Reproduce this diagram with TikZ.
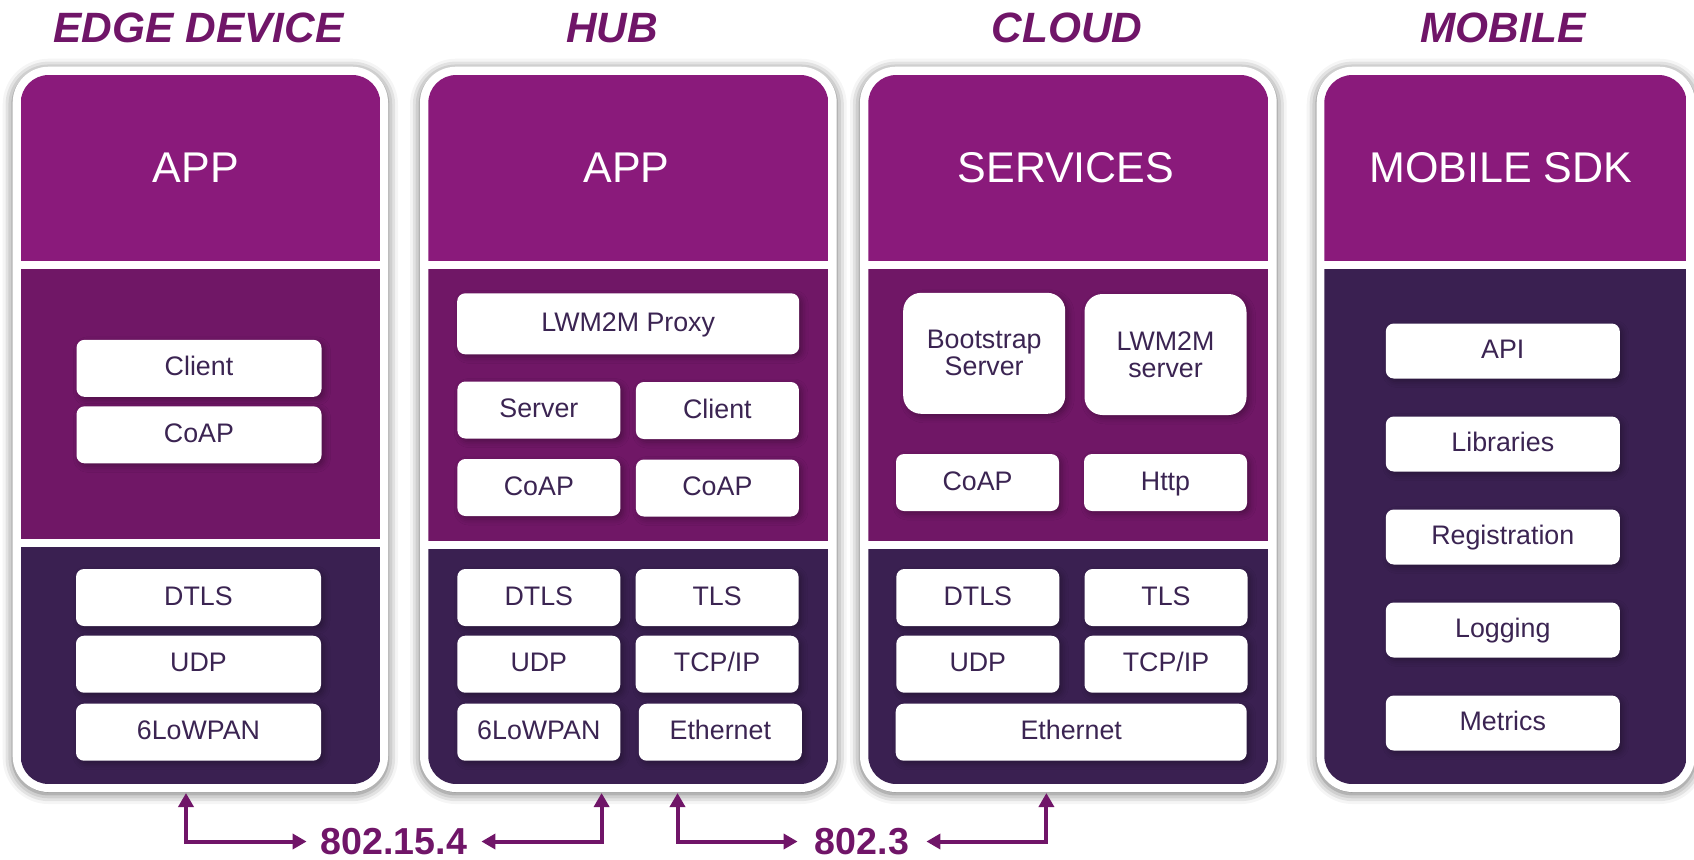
\documentclass[tikz,border=0pt]{standalone}
\usepackage{fontspec}
\setmainfont{Liberation Sans}
\usetikzlibrary{arrows.meta,shadows.blur}
\definecolor{topfill}{HTML}{8A1A7B}
\definecolor{midfill}{HTML}{701766}
\definecolor{lowfill}{HTML}{3A2051}
\definecolor{ink}{HTML}{3B2452}
\definecolor{accent}{HTML}{701568}
\begin{document}
\begin{tikzpicture}[x=0.5pt,y=-0.5pt,
  coltitle/.style={text=accent,inner sep=0pt,font=\fontsize{21.2}{24}\selectfont\bfseries\itshape},
  sechead/.style={text=white,inner sep=0pt,font=\fontsize{21.5}{24}\selectfont},
  boxbase/.style={fill=white,text=ink,rounded corners=4pt,inner sep=0pt,align=center,
    font=\fontsize{13.4}{13.5}\selectfont,
    blur shadow={shadow xshift=1.5pt,shadow yshift=-1.5pt,shadow opacity=30,shadow blur radius=3pt}},
  stackbox/.style={boxbase,minimum height=28.5pt,text height=9.6pt,text depth=2pt},
  boxwide/.style={stackbox,minimum width=122.5pt},
  boxhalf/.style={stackbox,minimum width=81.5pt},
  boxfull/.style={stackbox,minimum width=171pt},
  boxmob/.style={stackbox,minimum width=117pt,minimum height=27.5pt},
  boxtall/.style={boxbase,rounded corners=9pt,minimum width=81pt,minimum height=60.5pt},
  panelshadow/.style={blur shadow={shadow xshift=0pt,shadow yshift=-1pt,shadow opacity=60,shadow blur radius=5pt}},
  netarrow/.style={accent,line width=2pt,{Triangle[length=7pt,width=7.5pt]}-{Triangle[length=7pt,width=7.5pt]}},
  netlabel/.style={text=accent,inner sep=0pt,font=\fontsize{18.8}{20}\selectfont\bfseries}]
  \useasboundingbox (0,0) rectangle (1694,859);
  % panels
  \fill[white,rounded corners=18pt,panelshadow] (12.7,66.7) rectangle (388,792);
  \begin{scope}
    \clip[rounded corners=14pt] (20.7,75) rectangle (380.3,784);
    \fill[topfill] (20.7,75) rectangle (380.3,261);
    \fill[midfill] (20.7,269.3) rectangle (380.3,538.7);
    \fill[lowfill] (20.7,546.7) rectangle (380.3,784);
  \end{scope}
  \fill[white,rounded corners=18pt,panelshadow] (420,66.7) rectangle (836.7,792);
  \begin{scope}
    \clip[rounded corners=14pt] (428.3,75) rectangle (828.3,784);
    \fill[topfill] (428.3,75) rectangle (828.3,261);
    \fill[midfill] (428.3,269.3) rectangle (828.3,541);
    \fill[lowfill] (428.3,549.3) rectangle (828.3,784);
  \end{scope}
  \fill[white,rounded corners=18pt,panelshadow] (860,66.7) rectangle (1276.7,792);
  \begin{scope}
    \clip[rounded corners=14pt] (868.3,75) rectangle (1268.3,784);
    \fill[topfill] (868.3,75) rectangle (1268.3,261);
    \fill[midfill] (868.3,269.3) rectangle (1268.3,541);
    \fill[lowfill] (868.3,549.3) rectangle (1268.3,784);
  \end{scope}
  \fill[white,rounded corners=18pt,panelshadow] (1316.7,66.7) rectangle (1695,792);
  \begin{scope}
    \clip[rounded corners=14pt] (1324.3,75) rectangle (1686.7,784);
    \fill[topfill] (1324.3,75) rectangle (1686.7,261);
    \fill[lowfill] (1324.3,269.3) rectangle (1686.7,784);
  \end{scope}
  % column titles
  \node[coltitle] (tedge) at (198.5,28) {EDGE DEVICE};
  \node[coltitle] (thub) at (612,28) {HUB};
  \node[coltitle] (tcloud) at (1067,28) {CLOUD};
  \node[coltitle] (tmobile) at (1503,28) {MOBILE};
  \node[sechead] (hedge) at (196,167.5) {APP};
  \node[sechead] (hhub) at (626.6,167.5) {APP};
  \node[sechead] (hcloud) at (1066,167.5) {SERVICES};
  \node[sechead] (hmobile) at (1501,167.5) {MOBILE SDK};
  % edge device
  \node[boxwide] (edgeclient) at (199,368.3) {Client};
  \node[boxwide] (edgecoap) at (199,434.8) {CoAP};
  \node[boxwide] (edgedtls) at (198.5,597.5) {DTLS};
  \node[boxwide] (edgeudp) at (198.5,664.2) {UDP};
  \node[boxwide] (edgelowpan) at (198.5,732.2) {6LoWPAN};
  % hub
  \node[boxfull,minimum height=30.5pt] (hubproxy) at (628.2,323.8) {LWM2M Proxy};
  \node[boxhalf] (hubserver) at (538.9,410) {Server};
  \node[boxhalf] (hubclient) at (717.4,410.5) {Client};
  \node[boxhalf] (hubcoapa) at (538.9,487.5) {CoAP};
  \node[boxhalf] (hubcoapb) at (717.4,488) {CoAP};
  \node[boxhalf] (hubdtls) at (538.8,597.5) {DTLS};
  \node[boxhalf] (hubtls) at (717.1,597.5) {TLS};
  \node[boxhalf] (hubudp) at (538.8,664.2) {UDP};
  \node[boxhalf] (hubtcp) at (717.1,664.2) {TCP/IP};
  \node[boxhalf] (hublowpan) at (538.8,732.2) {6LoWPAN};
  \node[boxhalf] (hubeth) at (720.3,732.2) {Ethernet};
  % cloud
  \node[boxtall] (cloudboot) at (984.2,353.3) {Bootstrap\\Server};
  \node[boxtall] (cloudlwm) at (1165.5,354.5) {LWM2M\\server};
  \node[boxhalf] (cloudcoap) at (977.5,482.5) {CoAP};
  \node[boxhalf] (cloudhttp) at (1165.5,482.5) {Http};
  \node[boxhalf] (clouddtls) at (977.8,597.5) {DTLS};
  \node[boxhalf] (cloudtls) at (1166,597.5) {TLS};
  \node[boxhalf] (cloududp) at (977.8,664.2) {UDP};
  \node[boxhalf] (cloudtcp) at (1166,664.2) {TCP/IP};
  \node[boxfull,minimum width=175.5pt] (cloudeth) at (1071.2,732.2) {Ethernet};
  % mobile
  \node[boxmob] (mobapi) at (1502.8,351) {API};
  \node[boxmob] (moblib) at (1502.8,444) {Libraries};
  \node[boxmob] (mobreg) at (1502.8,537) {Registration};
  \node[boxmob] (moblog) at (1502.8,630) {Logging};
  \node[boxmob] (mobmet) at (1502.8,723) {Metrics};
  % links
  \node[netlabel,minimum width=87pt] (n154) at (394,841.5) {802.15.4};
  \node[netlabel,minimum width=64pt] (n23) at (862,841.5) {802.3};
  \coordinate (ea) at (186,793);
  \coordinate (ha) at (601.6,793);
  \coordinate (hb) at (677.5,793);
  \coordinate (ca) at (1046.4,793);
  \draw[netarrow] (ea) |- (n154);
  \draw[netarrow] (ha) |- (n154);
  \draw[netarrow] (hb) |- (n23);
  \draw[netarrow] (ca) |- (n23);
\end{tikzpicture}
\end{document}
